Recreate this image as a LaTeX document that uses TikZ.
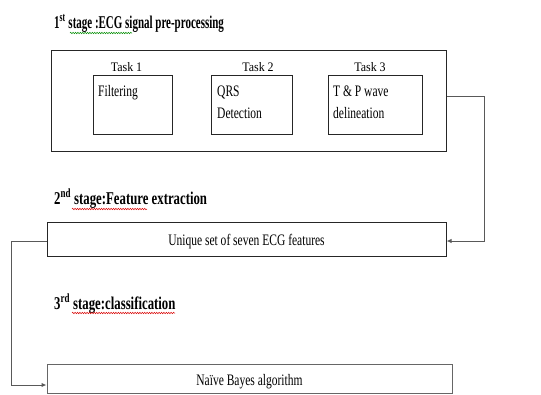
\documentclass[tikz,border=0pt]{standalone}
\usepackage{fontspec}
\setmainfont{Liberation Serif}
\newfontfamily\headfont[FakeStretch=0.71]{Liberation Serif}
\newfontfamily\narrowheadfont[FakeStretch=0.61]{Liberation Serif}
\newfontfamily\boxfont[FakeStretch=0.72]{Liberation Serif}
\newfontfamily\taskfont[FakeStretch=0.92]{Liberation Serif}
\usetikzlibrary{arrows.meta,decorations.pathmorphing}

\tikzset{
  heading/.style={anchor=base west, inner sep=0pt,
    font=\headfont\bfseries\fontsize{18}{22}\selectfont},
  narrowheading/.style={heading,
    font=\narrowheadfont\bfseries\fontsize{18}{22}\selectfont},
  framebox/.style={draw=black!85, line width=1pt, rectangle, inner sep=0pt},
  tasklabel/.style={anchor=base, inner sep=0pt,
    font=\taskfont\fontsize{13}{16}\selectfont},
  tasktext/.style={anchor=base west, inner sep=0pt,
    font=\boxfont\fontsize{16}{20}\selectfont},
  widebox/.style={framebox, font=\boxfont\fontsize{16}{20}\selectfont},
  link/.style={draw=black!65, line width=1pt},
  arrowlink/.style={link, -{Latex[length=5pt,width=4.5pt]}},
  squiggle/.style={line width=0.5pt,
    decorate, decoration={snake, amplitude=0.7pt, segment length=2.4pt}}
}

\begin{document}
\begin{tikzpicture}[x=1pt,y=-1pt]
\useasboundingbox (0,0) rectangle (541,394);

% stage headings
\node[narrowheading] (h1) at (54,28) {1\textsuperscript{st} stage :ECG signal pre-processing};
\node[heading] (h2) at (54,204) {2\textsuperscript{nd} stage:Feature extraction};
\node[heading] (h3) at (54,309) {3\textsuperscript{rd} stage:classification};

% spell-check squiggles under the headings
\draw[squiggle, green!55!black] (70,33) -- (132,33);
\draw[squiggle, red!85!black] (72,209) -- (147,209);
\draw[squiggle, red!85!black] (72,313) -- (175,313);

% stage 1: pre-processing frame and its three tasks
\node[framebox, minimum width=395pt, minimum height=101pt] (s1) at (248.5,100.5) {};

\node[framebox, minimum width=79pt, minimum height=59pt] (t1) at (132.5,104.5) {};
\node[framebox, minimum width=81pt, minimum height=59pt] (t2) at (251.5,104.5) {};
\node[framebox, minimum width=94pt, minimum height=59pt] (t3) at (375,104.5) {};

\node[tasklabel] (l1) at (126.5,71) {Task 1};
\node[tasklabel] (l2) at (258,71) {Task 2};
\node[tasklabel] (l3) at (370,71) {Task 3};

\node[tasktext] (x1) at (98,96) {Filtering};
\node[tasktext] (x2a) at (217,96) {QRS};
\node[tasktext] (x2b) at (217,118) {Detection};
\node[tasktext] (x3a) at (333,96) {T \& P wave};
\node[tasktext] (x3b) at (333,118) {delineation};

% stage 2 and stage 3 boxes
\node[widebox, minimum width=399pt, minimum height=34pt,
      text height=15pt, text depth=3pt] (fe) at (246.5,239)
      {Unique set of seven ECG features};
\node[widebox, draw=black!60, minimum width=405pt, minimum height=29pt,
      text height=16pt, text depth=3pt] (nb) at (249.5,378.5)
      {Naïve Bayes algorithm};

% connectors between stages
\draw[arrowlink] ([yshift=4.5pt]s1.east) -- ++(38,0) |- ([yshift=-2pt]fe.east);
\draw[arrowlink] ([yshift=-2pt]fe.west) -- ++(-35,0) |- ([yshift=-6.5pt]nb.west);
\end{tikzpicture}
\end{document}
